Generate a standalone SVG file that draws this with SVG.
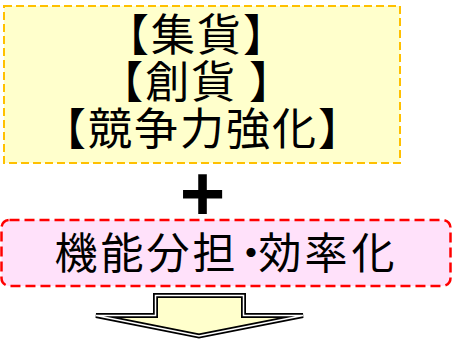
<svg xmlns="http://www.w3.org/2000/svg" width="452" height="340" viewBox="0 0 452 340">
<style>
.jp{font-family:"Noto Sans CJK JP","Noto Sans CJK SC",sans-serif;fill:#000}
</style>
<rect width="452" height="340" fill="#fff"/>
<g id="goal-box">
<rect x="4" y="6" width="396" height="157" fill="#FFFFCC" stroke="#FFC000" stroke-width="2" stroke-dasharray="8 4"/>
<text class="jp" font-size="44" text-anchor="middle" letter-spacing="2">
<tspan x="203" y="51">【集貨】</tspan>
<tspan x="203" y="98">【創貨 】</tspan>
<tspan x="203" y="145">【競争力強化】</tspan>
</text>
</g>
<g id="plus">
<text x="202.5" y="220" font-family="Liberation Sans, Arial, sans-serif" font-weight="bold" font-size="78" text-anchor="middle">+</text>
</g>
<g id="efficiency-box">
<rect x="1.5" y="220" width="449" height="66" rx="8" fill="#FFE1FA" stroke="#FF0000" stroke-width="2.5" stroke-dasharray="10 5"/>
<text class="jp" font-size="43" text-anchor="middle" x="76 122 168 214 251 280 326 373" y="269">機能分担・効率化</text>
</g>
<g id="connectors">
<path d="M155.5,295.5 H243.5 V315.5 H303 L199,336 L96,315.5 H155.5 Z" fill="#FFFFCC" stroke="#000" stroke-width="5" stroke-linejoin="miter"/>
<path d="M155.5,295.5 H243.5 V315.5 H303 L199,336 L96,315.5 H155.5 Z" fill="none" stroke="#fff" stroke-width="1.5"/>
</g>
</svg>
